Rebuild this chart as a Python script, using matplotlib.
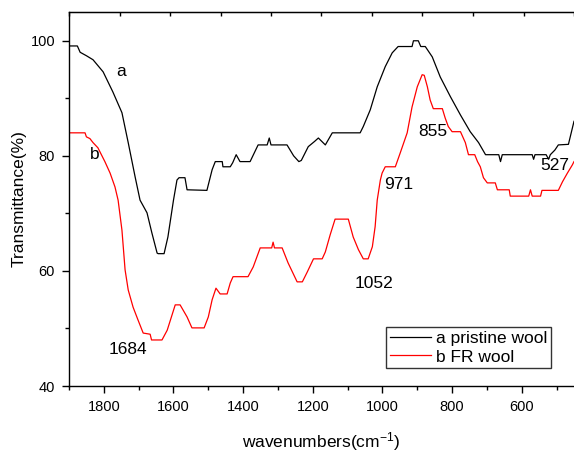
import numpy as np
import matplotlib
matplotlib.use("Agg")
import matplotlib.pyplot as plt

plt.rcParams['font.family'] = ['Liberation Sans', 'DejaVu Sans']
plt.rcParams['mathtext.fontset'] = 'custom'
plt.rcParams['mathtext.rm'] = 'Liberation Sans'
plt.rcParams['mathtext.it'] = 'Liberation Sans:italic'

# pristine wool (a)
wn_a = [1900, 1876, 1868, 1850, 1831, 1802, 1774, 1748, 1730, 1710, 1696, 1676, 1662,
        1647, 1644, 1627, 1616, 1600, 1590, 1584, 1567, 1561, 1504, 1489, 1480, 1460,
        1458, 1437, 1430, 1420, 1409, 1380, 1357, 1331, 1325, 1320, 1274, 1255, 1240,
        1233, 1213, 1195, 1184, 1164, 1144, 1064, 1055, 1035, 1015, 992, 972, 955, 915,
        911, 897, 890, 877, 857, 834, 805, 776, 748, 724, 704, 666, 661, 656, 570, 566,
        562, 530, 523, 518, 505, 495, 466, 458, 450]
tr_a = [99.1, 99.1, 98, 97.4, 96.7, 94.6, 91.1, 87.5, 82.3, 76.3, 72.3, 70.1, 66.6,
        63.1, 63, 63, 65.9, 72.3, 75.8, 76.2, 76.2, 74.1, 74, 77.6, 79, 79,
        78.1, 78.1, 78.8, 80.2, 79, 79, 81.9, 81.9, 83.1, 81.9, 81.9, 80, 79,
        79.2, 81.6, 82.5, 83.1, 81.9, 84, 84, 85.1, 88, 92, 95.5, 97.9, 99, 99,
        100, 100, 99, 99, 97.2, 93.7, 90.3, 87.1, 84.2, 82.3, 80.2, 80.2, 79, 80.2, 80.2, 79.4,
        80.2, 80.2, 79.4, 80.2, 81, 81.9, 82, 84, 86]

# FR wool (b)
wn_b = [1900, 1854, 1850, 1840, 1831, 1817, 1797, 1782, 1768, 1759, 1748, 1739, 1730,
        1716, 1702, 1687, 1667, 1663, 1633, 1618, 1595, 1581, 1561, 1547, 1512, 1500,
        1489, 1478, 1472, 1466, 1446, 1437, 1429, 1386, 1371, 1351, 1318, 1314, 1310,
        1288, 1271, 1245, 1230, 1216, 1198, 1173, 1164, 1150, 1136, 1098, 1084, 1069,
        1055, 1041, 1029, 1021, 1015, 1006, 1001, 992, 963, 949, 929, 915, 900, 886,
        880, 871, 863, 854, 828, 820, 811, 800, 776, 762, 753, 735, 727, 719, 710, 699,
        676, 670, 636, 633, 580, 575, 570, 546, 542, 495, 483, 469, 455, 450]
tr_b = [84, 84, 83.3, 83, 82.3, 81.4, 79, 77, 74.6, 72.3, 67.1, 60.2, 56.7,
        53.7, 51.5, 49.2, 49, 48, 48, 49.7, 54.1, 54.1, 52, 50.1, 50.1, 52,
        55, 57, 56.5, 56, 56, 57.9, 59, 59, 60.7, 64, 64, 65, 64,
        64, 61.4, 58.1, 58.1, 59.8, 62.1, 62.1, 63.3, 66.3, 69, 69, 65.9, 63.7,
        62.1, 62.1, 64.2, 67.7, 72.3, 75.8, 77, 78.1, 78.1, 80.5, 84, 88.5, 92, 94.1,
        94, 92, 89.7, 88.2, 88.2, 86.6, 85.1, 84.2, 84.2, 82.3, 80.2, 80.2, 79, 78.1, 76.2, 75.3,
        75.3, 74.1, 74.1, 73, 73, 74.1, 73, 73, 74, 74, 75.5, 77, 78.4, 79]

series_labels = ["a pristine wool", "b FR wool"]
annot_text = ["a", "b", "1684", "1052", "971", "855", "527"]
annot_x = [1751, 1825, 1730, 1024, 952, 854, 506]
annot_y = [94.6, 80.3, 46.4, 57.9, 75.1, 84.2, 78.4]

xticks = [1800, 1600, 1400, 1200, 1000, 800, 600]
yticks = [40, 60, 80, 100]

fig = plt.figure(figsize=(5.74, 4.55), dpi=100)
ax = fig.add_axes([69/574, 69/455, 505/574, 374/455])

ax.plot(wn_a, tr_a, color='black', lw=0.9, label=series_labels[0])
ax.plot(wn_b, tr_b, color='#ff0000', lw=0.9, label=series_labels[1])

ax.set_xlim(1900, 450)
ax.set_ylim(40, 105)
ax.set_xticks(xticks)
ax.set_xticks(np.arange(1900, 449, -100), minor=True)
ax.set_yticks(yticks)
ax.set_yticks([50, 70, 90], minor=True)
ax.tick_params(axis='both', which='major', direction='out', length=5, width=1,
               labelsize=10.5, pad=5)
ax.tick_params(axis='both', which='minor', direction='out', length=3, width=1)
ax.spines['right'].set_visible(False)
for s in ['left', 'bottom', 'top']:
    ax.spines[s].set_linewidth(1.0)

sec = ax.secondary_xaxis('top')
sec.set_xticks(np.linspace(1900, 450, 11))
sec.tick_params(direction='in', length=3, width=1, labeltop=False)
sec.set_xticklabels([])

for t, x, y in zip(annot_text, annot_x, annot_y):
    ax.text(x, y, t, fontsize=12.5, ha='center', va='center')

ax.set_xlabel(r'wavenumbers(cm$^{\mathrm{-1}}$)', fontsize=12.5, labelpad=12)
ax.set_ylabel('Transmittance(%)', fontsize=12.5, labelpad=3)

leg = ax.legend(loc='lower left', bbox_to_anchor=(0.628, 0.048), borderaxespad=0,
                fontsize=12.5, frameon=True, fancybox=False, handlelength=2.4,
                handletextpad=0.3, borderpad=0.2, labelspacing=0.2)
leg.get_frame().set_edgecolor('black')
leg.get_frame().set_linewidth(1.0)

fig.savefig('out.png', dpi=100)
